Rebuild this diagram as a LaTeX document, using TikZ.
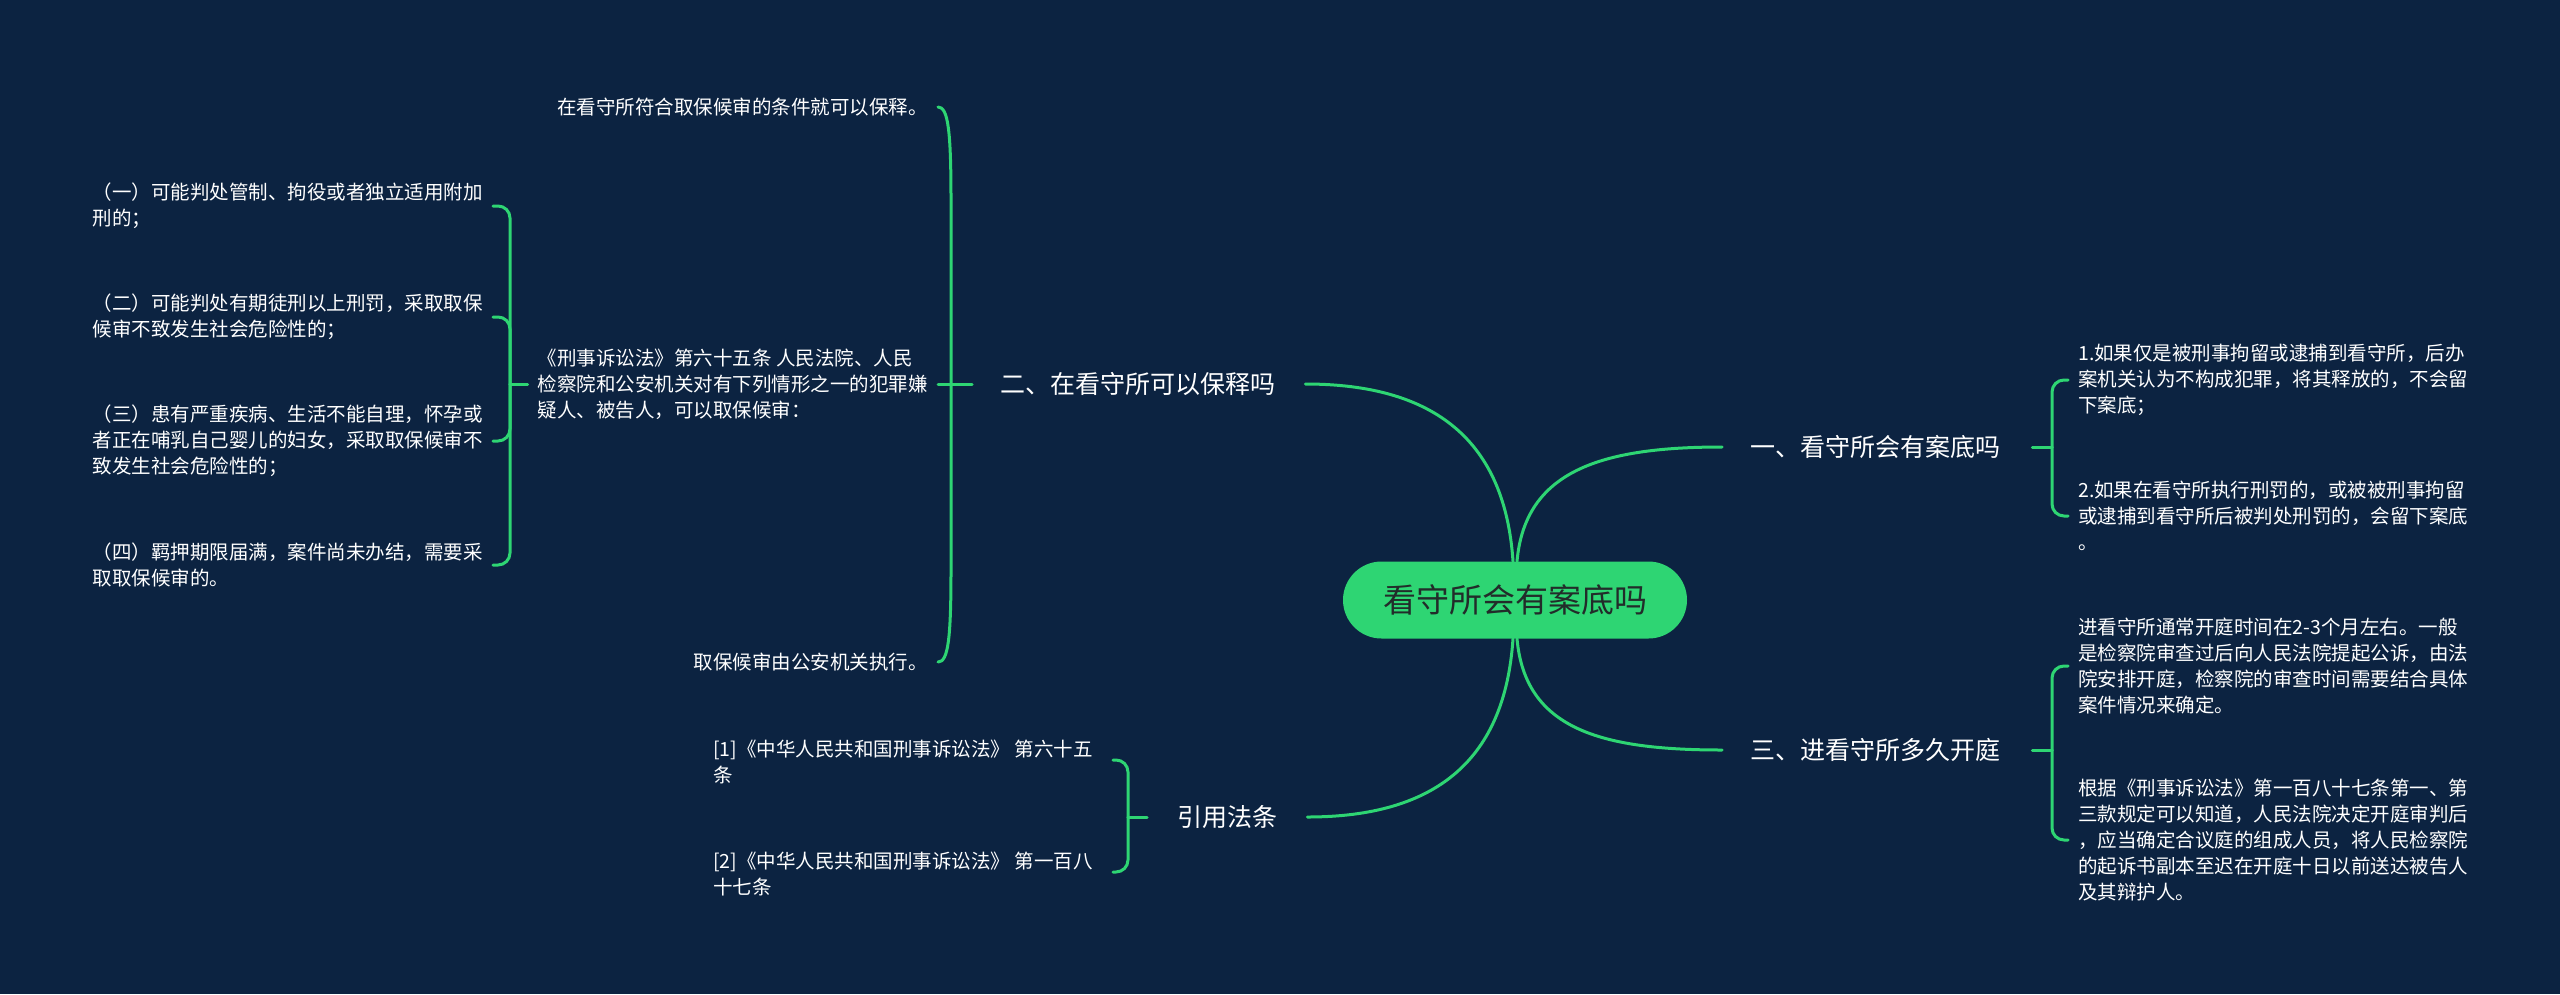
\documentclass[tikz,border=0pt]{standalone}
\usepackage{fontspec}
\setmainfont{Noto Sans CJK SC}
\usetikzlibrary{calc}
\definecolor{bg}{HTML}{0C2341}
\definecolor{gr}{HTML}{2ED573}
\definecolor{ctext}{HTML}{222C2A}
\begin{document}
\begin{tikzpicture}[x=1pt,y=-1pt,
  conn/.style={draw=gr,line width=3pt,line cap=round},
  leaf/.style={text=white,font=\fontsize{19.5}{26}\selectfont,align=left,inner sep=0pt},
  branch/.style={text=white,font=\fontsize{25}{30}\selectfont,inner sep=0pt},
  root/.style={fill=gr,text=ctext,font=\fontsize{33}{40}\selectfont,minimum width=344pt,minimum height=77pt,rounded corners=38.5pt,inner sep=0pt}]
\fill[bg] (0,0) rectangle (2560,994);
\useasboundingbox (0,0) rectangle (2560,994);

% root and branches
\node[root] (c) at (1515,600) {看守所会有案底吗};
\node[branch,anchor=west] (b1) at (1750,447) {一、看守所会有案底吗};
\node[branch,anchor=west] (b2) at (1000,384) {二、在看守所可以保释吗};
\node[branch,anchor=west] (b3) at (1750,750) {三、进看守所多久开庭};
\node[branch,anchor=west] (b4) at (1177,817) {引用法条};

% leaves right
\node[leaf,anchor=west] (l1a) at (2078,380) {1.如果仅是被刑事拘留或逮捕到看守所，后办\\案机关认为不构成犯罪，将其释放的，不会留\\下案底；};
\node[leaf,anchor=west] (l1b) at (2078,516) {2.如果在看守所执行刑罚的，或被被刑事拘留\\或逮捕到看守所后被判处刑罚的，会留下案底\\。};
\node[leaf,anchor=west] (l3a) at (2078,666) {进看守所通常开庭时间在2-3个月左右。一般\\是检察院审查过后向人民法院提起公诉，由法\\院安排开庭，检察院的审查时间需要结合具体\\案件情况来确定。};
\node[leaf,anchor=west] (l3b) at (2078,840) {根据《刑事诉讼法》第一百八十七条第一、第\\三款规定可以知道，人民法院决定开庭审判后\\，应当确定合议庭的组成人员，将人民检察院\\的起诉书副本至迟在开庭十日以前送达被告人\\及其辩护人。};

% leaves left
\node[leaf,anchor=east] (l2a) at (928,107) {在看守所符合取保候审的条件就可以保释。};
\node[leaf,anchor=east] (l2b) at (928,384) {《刑事诉讼法》第六十五条 人民法院、人民\\检察院和公安机关对有下列情形之一的犯罪嫌\\疑人、被告人，可以取保候审：};
\node[leaf,anchor=east] (l2c) at (928,662) {取保候审由公安机关执行。};

\node[leaf,anchor=east] (s1) at (483,206) {（一）可能判处管制、拘役或者独立适用附加\\刑的；};
\node[leaf,anchor=east] (s2) at (483,317) {（二）可能判处有期徒刑以上刑罚，采取取保\\候审不致发生社会危险性的；};
\node[leaf,anchor=east] (s3) at (483,441) {（三）患有严重疾病、生活不能自理，怀孕或\\者正在哺乳自己婴儿的妇女，采取取保候审不\\致发生社会危险性的；};
\node[leaf,anchor=east] (s4) at (483,565) {（四）羁押期限届满，案件尚未办结，需要采\\取取保候审的。};

\node[leaf,anchor=west] (r1) at (713,762) {[1]《中华人民共和国刑事诉讼法》 第六十五\\条};
\node[leaf,anchor=west] (r2) at (713,874) {[2]《中华人民共和国刑事诉讼法》 第一百八\\十七条};

% curves from root
\draw[conn] ($(c.north)+(2,0)$) .. controls +(8,-90) and +(-122,0) .. ($(b1.west)+(-28,0)$);
\draw[conn] ($(c.north)+(-2,0)$) .. controls +(-8,-120) and +(130,0) .. ($(b2.east)+(30,0)$);
\draw[conn] ($(c.south)+(2,0)$) .. controls +(8,90) and +(-122,0) .. ($(b3.west)+(-28,0)$);
\draw[conn] ($(c.south)+(-2,0)$) .. controls +(-8,120) and +(130,0) .. ($(b4.east)+(30,0)$);

% bracket branch 1
\coordinate (k1) at (2052,447);
\draw[conn] ($(b1.east)+(32,0)$) -- (k1);
\draw[conn,rounded corners=12pt] (k1) |- ($(l1a.west)+(-10,0)$);
\draw[conn,rounded corners=12pt] (k1) |- ($(l1b.west)+(-10,0)$);

% bracket branch 3
\coordinate (k3) at (2052,750);
\draw[conn] ($(b3.east)+(32,0)$) -- (k3);
\draw[conn,rounded corners=12pt] (k3) |- ($(l3a.west)+(-10,0)$);
\draw[conn,rounded corners=12pt] (k3) |- ($(l3b.west)+(-10,0)$);

% bracket branch 4
\coordinate (k4) at (1128,817);
\coordinate (h41) at (1113,760);
\coordinate (h42) at (1113,872);
\draw[conn] ($(b4.west)+(-30,0)$) -- (k4);
\draw[conn,rounded corners=12pt] (k4) |- (h41);
\draw[conn,rounded corners=12pt] (k4) |- (h42);

% bracket branch 2 (large)
\coordinate (k2) at (951,384);
\draw[conn] ($(b2.west)+(-28,0)$) -- (k2);
\draw[conn] (k2) -- (951,200) .. controls (951,130) and (948,107) .. ($(l2a.east)+(10,0)$);
\draw[conn] (k2) -- ($(l2b.east)+(10,0)$);
\draw[conn] (k2) -- (951,570) .. controls (951,640) and (948,662) .. ($(l2c.east)+(10,0)$);

% sub bracket
\coordinate (k5) at (510,384);
\draw[conn] ($(l2b.west)+(-10,0)$) -- (k5);
\draw[conn,rounded corners=12pt] (k5) |- ($(s1.east)+(10,0)$);
\draw[conn,rounded corners=12pt] (k5) |- ($(s2.east)+(10,0)$);
\draw[conn,rounded corners=12pt] (k5) |- ($(s3.east)+(10,0)$);
\draw[conn,rounded corners=12pt] (k5) |- ($(s4.east)+(10,0)$);
\end{tikzpicture}
\end{document}
